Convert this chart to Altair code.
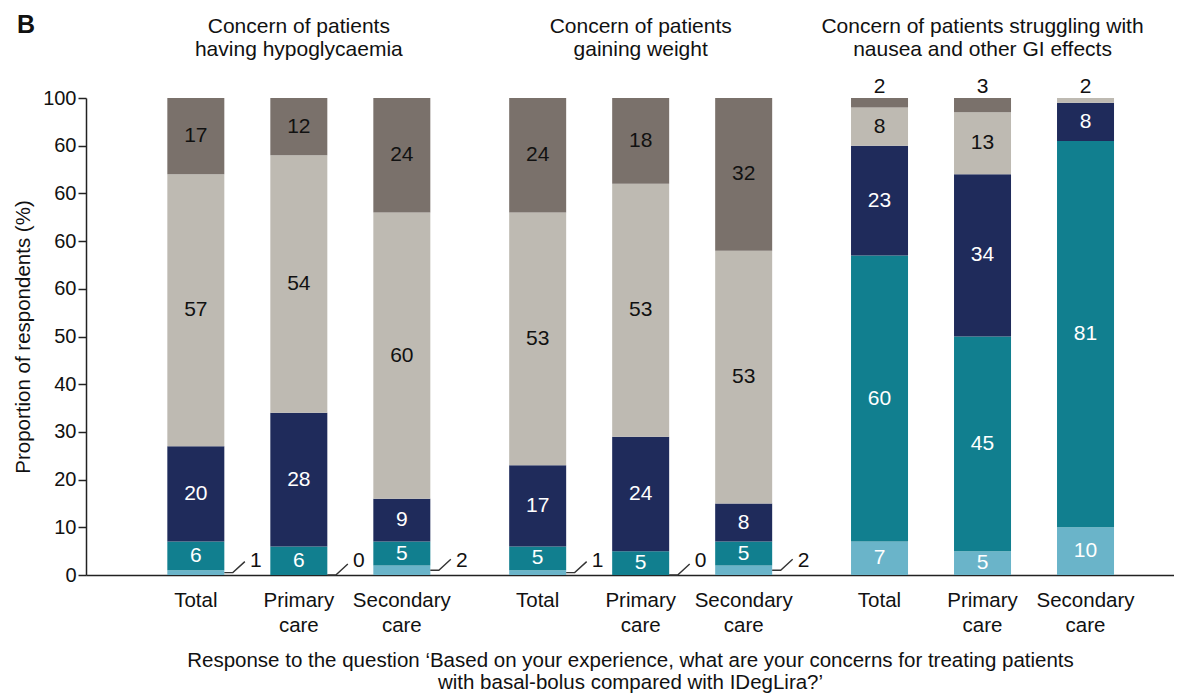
import altair as alt
import pandas as pd

FONT = "Liberation Sans"

# ---------------- data ----------------
groups = [
    "Concern of patients\nhaving hypoglycaemia",
    "Concern of patients\ngaining weight",
    "Concern of patients struggling with\nnausea and other GI effects",
]
settings = ["Total", "Primary care", "Secondary care"]
# response categories, stacked bottom -> top
responses = ["Response 1", "Response 2", "Response 3", "Response 4", "Response 5"]
colors = ["#6ab4c9", "#117f8f", "#1f2b5b", "#bebab2", "#7a716b"]

hypo_total = [1, 6, 20, 57, 17]
hypo_primary = [0, 6, 28, 54, 12]
hypo_secondary = [2, 5, 9, 60, 24]
weight_total = [1, 5, 17, 53, 24]
weight_primary = [0, 5, 24, 53, 18]
weight_secondary = [2, 5, 8, 53, 32]
gi_total = [7, 60, 23, 8, 2]
gi_primary = [5, 45, 34, 13, 3]
gi_secondary = [10, 81, 8, 2, 0]

y_ticks = [0, 10, 20, 30, 40, 50, 60, 70, 80, 90, 100]
y_title = "Proportion of respondents (%)"
x_title = [
    "Response to the question \u2018Based on your experience, what are your concerns for treating patients",
    "with basal-bolus compared with IDegLira?\u2019",
]
panel_letter = ["B"]

series = [
    [hypo_total, hypo_primary, hypo_secondary],
    [weight_total, weight_primary, weight_secondary],
    [gi_total, gi_primary, gi_secondary],
]

rows = []
for gi, g in enumerate(groups):
    for si, s in enumerate(settings):
        for ri, r in enumerate(responses):
            rows.append(dict(group=g, sub=s, resp=r, order=ri, value=series[gi][si][ri]))
df = pd.DataFrame(rows)
df_sub = pd.DataFrame([dict(group=g, sub=s) for g in groups for s in settings])
df_grp = pd.DataFrame(dict(group=groups))
df_letter = pd.DataFrame(dict(letter=panel_letter))

# ---------------- encodings ----------------
y_scale = alt.Scale(domain=[0, 100], nice=False, zero=True)
y_axis = alt.Axis(
    values=y_ticks,
    labelExpr="datum.value >= 70 && datum.value <= 90 ? '60' : datum.label",
    tickSize=8, tickWidth=1.5, tickColor="#222",
    domainColor="#222", domainWidth=1.5, grid=False,
    labelFont=FONT, labelFontSize=20, labelColor="#111", labelPadding=2,
    titleFont=FONT, titleFontSize=20.5, titleColor="#111", titleFontWeight="normal",
    titlePadding=9,
)


def Y(field):
    return alt.Y(field, type="quantitative", scale=y_scale, axis=y_axis, title=y_title)


x_enc = alt.X(
    "group:N",
    sort=groups,
    scale=alt.Scale(domain=groups, paddingInner=0.0961, paddingOuter=0.1394, align=0.612),
    axis=alt.Axis(
        labels=False, ticks=False, grid=False,
        domainColor="#222", domainWidth=1.5,
        titleFont=FONT, titleFontSize=20.5, titleColor="#111", titleFontWeight="normal",
        titlePadding=75, titleLineHeight=22,
    ),
    title=x_title,
)
xo_enc = alt.XOffset(
    "sub:N", sort=settings,
    scale=alt.Scale(domain=settings, paddingInner=0.4466, paddingOuter=0.2233),
)
color_enc = alt.Color("resp:N", scale=alt.Scale(domain=responses, range=colors), legend=None)

base = (
    alt.Chart(df)
    .transform_stack(stack="value", groupby=["group", "sub"], as_=["y0", "y1"],
                     sort=[alt.SortField("order", "ascending")])
    .transform_calculate(
        bot="min(datum.y0, 100)",
        top="min(datum.y1, 100)",
        mid="(min(datum.y0, 100) + min(datum.y1, 100)) / 2",
        zero="0",
        hundred="100",
    )
)

bars = (
    base.transform_filter("datum.value > 0 && datum.y0 < 100")
    .mark_bar()
    .encode(x=x_enc, xOffset=xo_enc, y=Y("bot"), y2="top:Q", color=color_enc)
)

inner = (
    base.transform_filter("datum.value >= 5")
    .mark_text(font=FONT, fontSize=21, baseline="middle", align="center")
    .encode(
        x=x_enc, xOffset=xo_enc, y=Y("mid"),
        text=alt.Text("value:Q"),
        color=alt.condition("datum.order <= 2", alt.value("white"), alt.value("#111")),
    )
)

leaders = (
    base.transform_filter("datum.order == 0 && datum.value < 5")
    .mark_point(shape="M 28.5 0 L 37 0 L 49 -11", size=4, filled=False,
                color="#333", strokeWidth=1.4, opacity=1)
    .encode(x=x_enc, xOffset=xo_enc, y=Y("mid"))
)

bottom_lbl = (
    base.transform_filter("datum.order == 0 && datum.value < 5")
    .mark_text(font=FONT, fontSize=21, baseline="middle", align="center", dx=60, dy=-14, color="#111")
    .encode(x=x_enc, xOffset=xo_enc, y=Y("zero"), text=alt.Text("value:Q"))
)

top_lbl = (
    base.transform_filter("datum.order >= 3 && datum.value > 0 && datum.value < 5")
    .mark_text(font=FONT, fontSize=21, baseline="middle", align="center", dy=-11, color="#111")
    .encode(x=x_enc, xOffset=xo_enc, y=Y("hundred"), text=alt.Text("value:Q"))
)

sub_lbl = (
    alt.Chart(df_sub)
    .transform_calculate(zero="0")
    .mark_text(font=FONT, fontSize=20.5, baseline="top", align="center", dy=15.5,
               lineBreak=" ", lineHeight=25, color="#111")
    .encode(x=x_enc, xOffset=xo_enc, y=Y("zero"), text="sub:N")
)

grp_lbl = (
    alt.Chart(df_grp)
    .transform_calculate(hundred="100")
    .mark_text(font=FONT, fontSize=21, baseline="top", align="center", dy=-82.3,
               lineBreak="\n", lineHeight=23.5, color="#111")
    .encode(x=x_enc, y=Y("hundred"), text="group:N")
)

# panel letter (annotation placed in the top-left margin)
letter = (
    alt.Chart(df_letter)
    .mark_text(font=FONT, fontSize=25, fontWeight="bold", baseline="alphabetic", align="left", color="#111")
    .encode(x=alt.value(-69), y=alt.value(-65), text="letter:N")
)

chart = (
    alt.layer(bars, inner, leaders, bottom_lbl, top_lbl, sub_lbl, grp_lbl, letter)
    .properties(
        width=1088,
        height=477,
        autosize=alt.AutoSizeParams(type="none"),
        padding={"left": 78, "top": 90, "right": 0, "bottom": 135},
    )
    .configure_view(stroke=None)
)

chart.save("out.html", embed_options={"renderer": "svg", "actions": False})
